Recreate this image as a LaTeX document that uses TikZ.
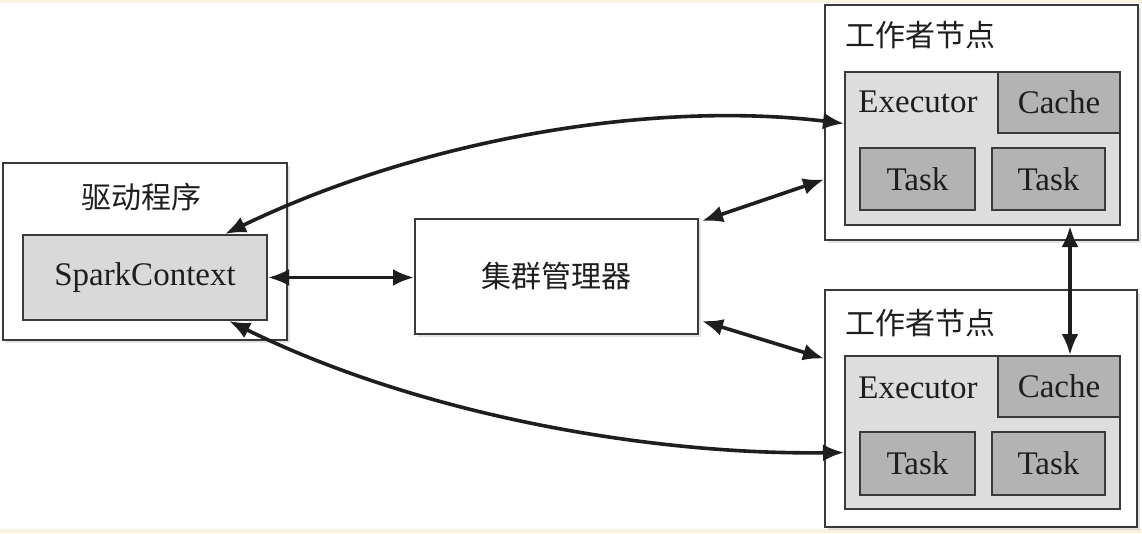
\documentclass[tikz,border=0pt]{standalone}
\usepackage{fontspec}
\setmainfont{Liberation Serif}
\newfontfamily\cjk{Noto Sans CJK SC}
\usetikzlibrary{shadows,arrows.meta,calc}
\definecolor{cream}{HTML}{FBF3E1}
\definecolor{edge}{HTML}{3A3A3A}
\definecolor{lightfill}{HTML}{D9D9D9}
\definecolor{execfill}{HTML}{DDDDDD}
\definecolor{darkfill}{HTML}{B3B3B3}
\definecolor{ink}{HTML}{1E1E1E}
\begin{document}
\begin{tikzpicture}[x=1pt,y=-1pt,
  box/.style={draw=edge,line width=2pt,inner sep=0pt,text=ink},
  outer/.style={box,fill=white,drop shadow={shadow xshift=3pt,shadow yshift=-3pt,opacity=0.22}},
  lightbox/.style={box,fill=lightfill},
  execbox/.style={box,fill=execfill},
  darkbox/.style={box,fill=darkfill},
  lat/.style={font=\fontsize{33}{38}\selectfont},
  cn/.style={font=\cjk\fontsize{30}{36}\selectfont,text=ink,inner sep=0pt},
  conn/.style={line width=3.6pt,draw=ink,{Latex[length=21pt,width=17pt]}-{Latex[length=21pt,width=17pt]}}
]
\useasboundingbox (0,0) rectangle (1142,533);
\fill[cream] (0,0) rectangle (1142,533);
\fill[white] (0,3) rectangle (1142,529);

% driver
\node[outer,minimum width=284pt,minimum height=177pt] (driver) at (145,251.5) {};
\node[cn] (drvlabel) at (141,197) {驱动程序};
\node[lightbox,lat,minimum width=244pt,minimum height=85pt] (sc) at (145,277.5) {SparkContext};

% cluster manager
\node[outer,cn,minimum width=283pt,minimum height=115pt] (cm) at (556.5,276.5) {集群管理器};

% worker 1
\node[outer,minimum width=313pt,minimum height=235pt] (w1) at (981.5,122.5) {};
\node[cn] (w1label) at (920,35) {工作者节点};
\node[execbox,minimum width=275pt,minimum height=153pt] (exec1) at (982.5,148.5) {};
\node[darkbox,lat,minimum width=122pt,minimum height=61pt] (cache1) at (1059,102.5) {Cache};
\node[lat,text=ink,inner sep=0pt] (exec1label) at (918,102) {Executor};
\node[darkbox,lat,minimum width=115pt,minimum height=62pt] (t11) at (917.5,179) {Task};
\node[darkbox,lat,minimum width=113pt,minimum height=62pt] (t12) at (1048.5,179) {Task};

% worker 2
\node[outer,minimum width=312pt,minimum height=237pt] (w2) at (981,408.5) {};
\node[cn] (w2label) at (920,323) {工作者节点};
\node[execbox,minimum width=275pt,minimum height=153pt] (exec2) at (982.5,432.5) {};
\node[darkbox,lat,minimum width=122pt,minimum height=61pt] (cache2) at (1059,386.5) {Cache};
\node[lat,text=ink,inner sep=0pt] (exec2label) at (918,388) {Executor};
\node[darkbox,lat,minimum width=115pt,minimum height=63pt] (t21) at (917.5,463.5) {Task};
\node[darkbox,lat,minimum width=113pt,minimum height=63pt] (t22) at (1048.5,463.5) {Task};

% connectors
\draw[conn] (sc.east) -- (sc.east -| cm.west);
\draw[conn] ([xshift=-43pt]sc.north east) .. controls (420,140) and (650,100) .. ([yshift=25pt]exec1.west);
\draw[conn] ([xshift=-39pt]sc.south east) .. controls (420,415) and (650,455) .. ([yshift=-20pt]exec2.west);
\draw[conn] ([xshift=3pt,yshift=-3pt]cm.north east) -- ([yshift=-57pt]w1.west);
\draw[conn] ([xshift=3pt,yshift=14pt]cm.south east) -- ([yshift=50pt]w2.west);
\coordinate (vbot) at ([xshift=11pt]cache2.north);
\draw[conn] (exec1.south -| vbot) -- (vbot);
\end{tikzpicture}
\end{document}
